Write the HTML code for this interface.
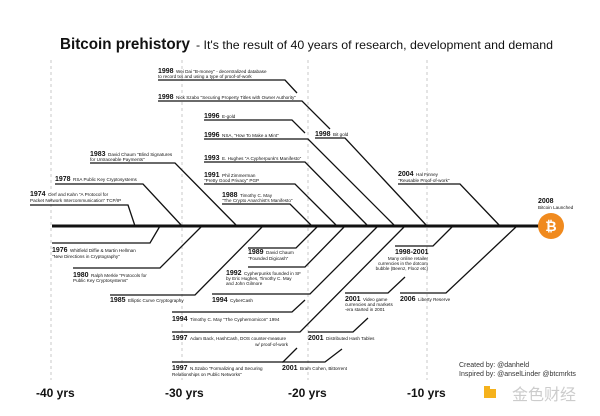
<!DOCTYPE html>
<html><head><meta charset="utf-8"><style>
html,body{margin:0;padding:0;background:#fff;width:600px;height:416px;overflow:hidden}
svg{display:block}
text{font-family:"Liberation Sans",sans-serif;fill:#111}
.y{font-weight:bold;font-size:7px}
.d{font-size:4.6px}
.l{stroke:#111;stroke-width:1.3;fill:none}
.ax{font-weight:bold;font-size:12px}
</style></head><body>
<svg width="600" height="416" viewBox="0 0 600 416" xmlns="http://www.w3.org/2000/svg">
<rect width="600" height="416" fill="#fff"/>
<text x="60" y="49" font-size="15.5" font-weight="bold" textLength="130" lengthAdjust="spacingAndGlyphs">Bitcoin prehistory</text>
<text x="196" y="49" font-size="12" textLength="357" lengthAdjust="spacingAndGlyphs">-  It's the result of 40 years of research, development and demand</text>
<g stroke="#bbb" stroke-width="0.8" stroke-dasharray="3,3">
<line x1="51" y1="60" x2="51" y2="380"/><line x1="182" y1="60" x2="182" y2="380"/>
<line x1="308" y1="60" x2="308" y2="380"/><line x1="427" y1="60" x2="427" y2="380"/>
</g>
<line x1="52" y1="226" x2="545" y2="226" stroke="#111" stroke-width="3"/>
<circle cx="551" cy="226" r="13" fill="#f08a1e"/>
<text x="551" y="231" font-size="14" font-weight="bold" text-anchor="middle" style="fill:#fff">₿</text>
<text x="538" y="203" class="y">2008</text><text x="538" y="209" class="d">Bitcoin Launched</text>
<g class="l">
<polyline points="30,205 128,205 135,226"/>
<polyline points="55,184 143,184 182,226"/>
<polyline points="90,163 175,163 237,226"/>
<polyline points="52,243 150,243 160,226"/>
<polyline points="73,268 160,268 202,226"/>
<polyline points="110,295 195,295 263,226"/>
<polyline points="158,80 285,80 297,93"/>
<polyline points="158,101 302,101 330,129"/>
<polyline points="315,138 345,138 427,226"/>
<polyline points="204,120 292,120 305,133"/>
<polyline points="204,139 308,139 395,226"/>
<polyline points="204,162 305,162 368,226"/>
<polyline points="204,184 295,184 337,226"/>
<polyline points="222,204 290,204 312,226"/>
<polyline points="398,184 460,184 500,226"/>
<polyline points="395,246 433,246 453,226"/>
<polyline points="400,293 446,293 517,226"/>
<polyline points="248,248 296,248 318,226"/>
<polyline points="248,267 305,267 345,226"/>
<polyline points="212,294 310,294 378,226"/>
<polyline points="172,312 292,312 305,300"/>
<polyline points="172,332 300,332 405,226"/>
<polyline points="172,362 283,362 297,348"/>
<polyline points="308,332 353,332 368,318"/>
<polyline points="282,362 325,362 342,349"/>
<polyline points="345,293 388,293 405,277"/>
</g>
<text x="30" y="196" class="y">1974</text><text x="48" y="196" class="d">Cerf and Kahn "A Protocol for</text><text x="30" y="202" class="d">Packet Network Intercommunication" TCP/IP</text>
<text x="55" y="181" class="y">1978</text><text x="73" y="181" class="d">RSA Public Key Cryptosystems</text>
<text x="90" y="156" class="y">1983</text><text x="108" y="156" class="d">David Chaum "Blind Signatures</text><text x="90" y="161" class="d">for Untraceable Payments"</text>
<text x="52" y="252" class="y">1976</text><text x="70" y="252" class="d">Whitfield Diffie &amp; Martin Hellman</text><text x="52" y="258" class="d">"New Directions in Cryptography"</text>
<text x="73" y="277" class="y">1980</text><text x="91" y="277" class="d">Ralph Merkle "Protocols for</text><text x="73" y="282" class="d">Public Key Cryptosystems"</text>
<text x="110" y="302" class="y">1985</text><text x="128" y="302" class="d">Elliptic Curve Cryptography</text>
<text x="158" y="73" class="y">1998</text><text x="176" y="73" class="d">Wei Dai "B-money" - decentralized database</text><text x="158" y="78" class="d">to record txs and using a type of proof-of-work</text>
<text x="158" y="99" class="y">1998</text><text x="176" y="99" class="d">Nick Szabo "Securing Property Titles with Owner Authority"</text>
<text x="315" y="136" class="y">1998</text><text x="333" y="136" class="d">Bit gold</text>
<text x="204" y="118" class="y">1996</text><text x="222" y="118" class="d">E-gold</text>
<text x="204" y="137" class="y">1996</text><text x="222" y="137" class="d">NSA, "How To Make a Mint"</text>
<text x="204" y="160" class="y">1993</text><text x="222" y="160" class="d">E. Hughes "A Cypherpunk's Manifesto"</text>
<text x="204" y="177" class="y">1991</text><text x="222" y="177" class="d">Phil Zimmerman</text><text x="204" y="182" class="d">"Pretty Good Privacy" PGP</text>
<text x="222" y="197" class="y">1988</text><text x="240" y="197" class="d">Timothy C. May</text><text x="222" y="202" class="d">"The Crypto Anarchist's Manifesto"</text>
<text x="398" y="176" class="y">2004</text><text x="416" y="176" class="d">Hal Finney</text><text x="398" y="182" class="d">"Reusable Proof-of-work"</text>
<text x="395" y="254" class="y">1998-2001</text><text x="428" y="260" class="d" text-anchor="end">Many online retailer</text><text x="428" y="265" class="d" text-anchor="end">currencies in the dotcom</text><text x="428" y="270" class="d" text-anchor="end">bubble (Beenz, Flooz etc)</text>
<text x="400" y="301" class="y">2006</text><text x="418" y="301" class="d">Liberty Reserve</text>
<text x="248" y="254" class="y">1989</text><text x="266" y="254" class="d">David Chaum</text><text x="248" y="260" class="d">"Founded Digicash"</text>
<text x="226" y="275" class="y">1992</text><text x="244" y="275" class="d">Cypherpunks founded in SF</text><text x="226" y="280" class="d">by Eric Hughes, Timothy C. May</text><text x="226" y="285" class="d">and John Gilmore</text>
<text x="212" y="302" class="y">1994</text><text x="230" y="302" class="d">CyberCash</text>
<text x="172" y="321" class="y">1994</text><text x="190" y="321" class="d">Timothy C. May "The Cyphernomicon" 1994</text>
<text x="172" y="340" class="y">1997</text><text x="190" y="340" class="d">Adam Back, HashCash, DOS counter-measure</text><text x="288" y="346" class="d" text-anchor="end">w/ proof-of-work</text>
<text x="172" y="370" class="y">1997</text><text x="190" y="370" class="d">N.Szabo "Formalizing and Securing</text><text x="172" y="376" class="d">Relationships on Public Networks"</text>
<text x="308" y="340" class="y">2001</text><text x="326" y="340" class="d">Distributed Hash Tables</text>
<text x="282" y="370" class="y">2001</text><text x="300" y="370" class="d">Bram Cohen, Bittorrent</text>
<text x="345" y="301" class="y">2001</text><text x="363" y="301" class="d">Video game</text><text x="345" y="306" class="d">currencies and markets</text><text x="345" y="311" class="d">-era started in 2001</text>
<text x="36" y="397" class="ax">-40 yrs</text><text x="165" y="397" class="ax">-30 yrs</text>
<text x="288" y="397" class="ax">-20 yrs</text><text x="407" y="397" class="ax">-10 yrs</text>
<text x="459" y="367" font-size="7" style="fill:#333">Created by: @danheld</text>
<text x="459" y="376" font-size="7" style="fill:#333">Inspired by: @anselLinder @btcmrkts</text>
<rect x="484" y="386" width="12" height="12" fill="#f5b21c"/><rect x="490" y="383" width="6" height="6" fill="#fff"/>
<text x="512" y="400" font-size="16" style="fill:#ccc" font-family="Noto Sans CJK SC,sans-serif">金色财经</text>
</svg>
</body></html>
